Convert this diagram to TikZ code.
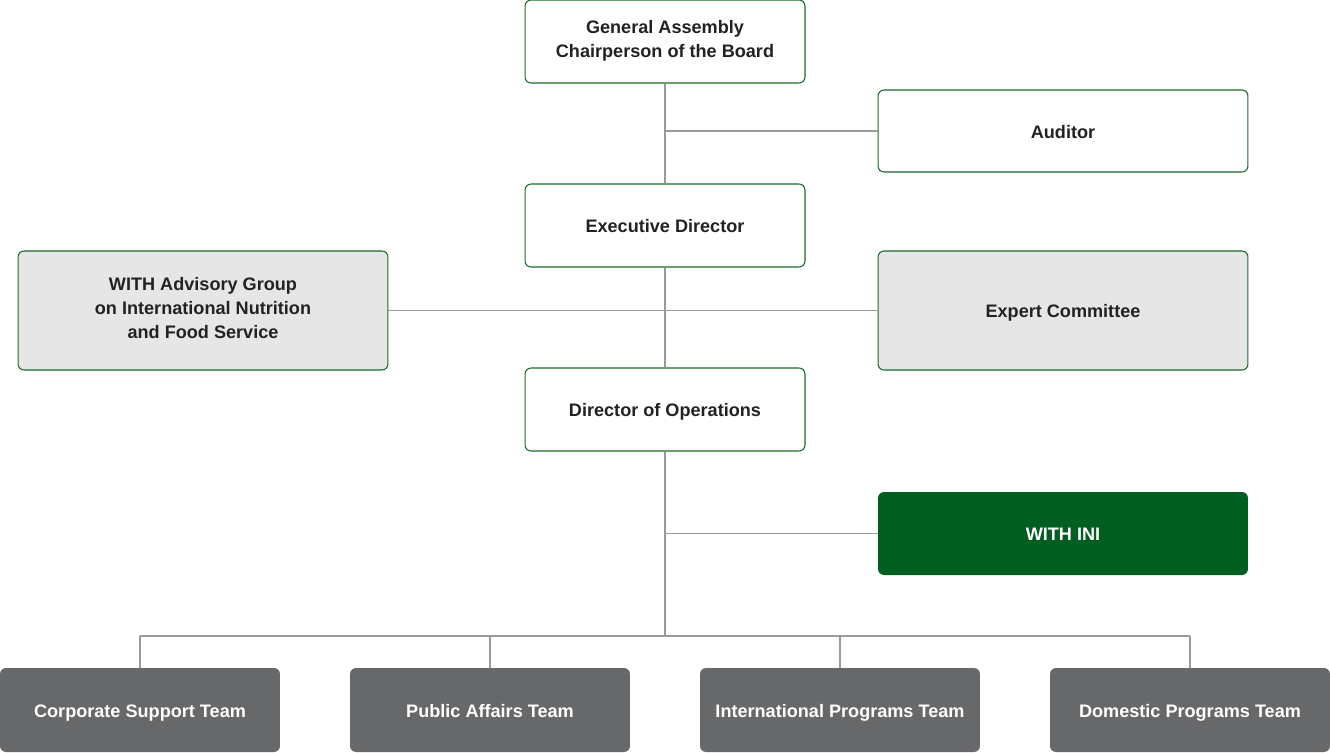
\documentclass[tikz,border=0pt]{standalone}
\usepackage{fontspec}
\setmainfont{Liberation Sans}
\usepackage{tikz}

\definecolor{boardgreen}{HTML}{1D6A2C}
\definecolor{inigreen}{HTML}{005E20}
\definecolor{panelgray}{HTML}{E6E6E6}
\definecolor{teamgray}{HTML}{67686A}
\definecolor{linkgray}{HTML}{9A9A9A}
\definecolor{inktext}{HTML}{222222}
\newcommand{\capstrut}{\rule[-0.3em]{0pt}{1.4em}}

\begin{document}
\begin{tikzpicture}[x=0.02cm, y=-0.02cm,
        every node/.style={font=\fontsize{10.3}{13.6}\selectfont\bfseries, align=center, inner sep=0pt,
            execute at begin node=\capstrut, execute at end node=\capstrut},
        office/.style={draw=boardgreen, line width=0.6pt, rounded corners=0.12cm, fill=white, text=inktext},
        narrow/.style={minimum width=5.6cm, minimum height=1.66cm},
        wide/.style={minimum width=7.4cm, minimum height=1.64cm},
        panel/.style={office, fill=panelgray, minimum width=7.4cm, minimum height=2.38cm},
        ini/.style={fill=inigreen, rounded corners=0.12cm, text=white, minimum width=7.4cm, minimum height=1.66cm},
        team/.style={fill=teamgray, rounded corners=0.12cm, text=white, minimum width=5.6cm, minimum height=1.68cm},
        link/.style={draw=linkgray, line width=0.6pt}]
    \useasboundingbox (0,0) rectangle (1330,752);

    % upper chain
    \node[office, narrow] (assembly) at (665,41.5) {General Assembly\\Chairperson of the Board};
    \node[office, wide] (auditor) at (1063,131) {Auditor};
    \node[office, narrow] (executive) at (665,225.5) {Executive Director};
    \node[panel] (advisory) at (203,310.5) {WITH Advisory Group\\on International Nutrition\\and Food Service};
    \node[panel] (expert) at (1063,310.5) {Expert Committee};
    \node[office, narrow] (operations) at (665,409.5) {Director of Operations};
    \node[ini] (withini) at (1063,533.5) {WITH INI};

    % teams
    \node[team] (corporate) at (140,710) {Corporate Support Team};
    \node[team] (public) at (490,710) {Public Affairs Team};
    \node[team] (international) at (840,710) {International Programs Team};
    \node[team] (domestic) at (1190,710) {Domestic Programs Team};

    % connectors
    \coordinate (bus) at (665,636);
    \draw[link] (assembly) -- (executive);
    \draw[link] (executive) -- (operations);
    \draw[link] (auditor.west) -- (auditor.west -| assembly.south);
    \draw[link] (advisory) -- (expert);
    \draw[link] (operations) -- (bus);
    \draw[link] (withini.west) -- (withini.west -| bus);
    \draw[link] (corporate.north |- bus) -- (domestic.north |- bus);
    \foreach \t in {corporate, public, international, domestic}
        \draw[link] (\t.north |- bus) -- (\t.north);
\end{tikzpicture}
\end{document}
